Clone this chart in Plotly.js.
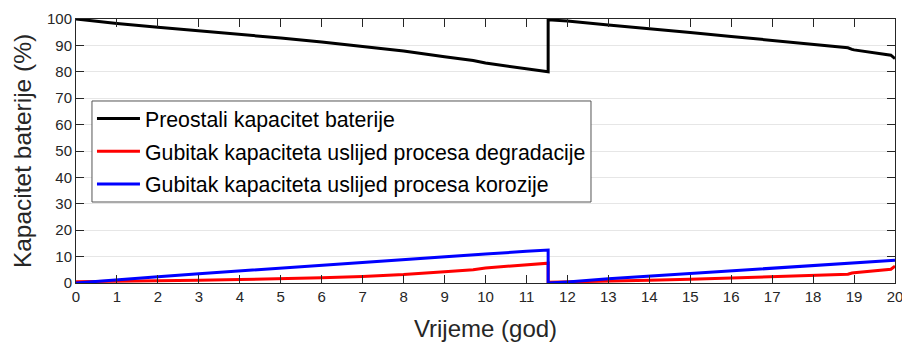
<!DOCTYPE html>
<html>
<head>
<meta charset="utf-8">
<script src="https://cdn.plot.ly/plotly-3.0.1.min.js"></script>
<style>html,body{margin:0;padding:0;background:#fff}#chart{width:902px;height:342px}</style>
</head>
<body>
<div id="chart"></div>
<script>
const years = [0,1,2,3,4,5,6,7,8,9,9.7,10,11,11.53,11.53,12,13,14,15,16,17,18,18.85,18.95,19,19.9,20];
const remaining = [100,98.3,96.9,95.6,94.2,92.8,91.3,89.7,87.9,85.7,84.3,83.3,81.3,80,99.7,99.2,97.7,96.4,94.9,93.4,91.8,90.3,89.1,88.5,88.3,86.3,85];
const degradation = [0.5,0.6,0.8,1.0,1.3,1.6,2.0,2.5,3.2,4.3,5.0,5.7,6.7,7.5,0.3,0.4,0.7,1.0,1.4,1.9,2.4,2.9,3.3,3.8,3.9,5.2,6.4];
const corrosion = [0,1.3,2.4,3.5,4.6,5.6,6.7,7.8,8.9,10,10.7,11,12,12.5,0,0.4,1.6,2.6,3.7,4.7,5.8,6.8,7.6,7.7,7.8,8.5,8.6];
const names = ["Preostali kapacitet baterije","Gubitak kapaciteta uslijed procesa degradacije","Gubitak kapaciteta uslijed procesa korozije"];
const xTicks = [0,1,2,3,4,5,6,7,8,9,10,11,12,13,14,15,16,17,18,19,20];
const yTicks = [0,10,20,30,40,50,60,70,80,90,100];

const series = [remaining, degradation, corrosion];
const colors = ["#000000","#ff0000","#0000ff"];
const traces = series.map((s,i)=>({
  x: years, y: s, type:'scatter', mode:'lines', name:names[i],
  legendgroup:'g'+i,
  line:{color:colors[i], width:3}
}));

const FONT = 'Liberation Sans, Arial, sans-serif';
const axisCommon = {
  showline:true, mirror:'ticks', linecolor:'#262626', linewidth:1,
  ticks:'inside', ticklen:8, tickcolor:'#262626', tickwidth:1,
  tickfont:{family:FONT, size:15, color:'#262626'},
  zeroline:false, ticklabeloverflow:'allow'
};
const layout = {
  width:902, height:342,
  margin:{l:76, r:7, t:19, b:59},
  paper_bgcolor:'#fff', plot_bgcolor:'#fff',
  showlegend:true,
  xaxis: Object.assign({}, axisCommon, {
    range:[0,20], tickvals:xTicks, showgrid:false,
    title:{text:'Vrijeme (god)', font:{family:FONT, size:24, color:'#262626'}, standoff:17}
  }),
  yaxis: Object.assign({}, axisCommon, {
    range:[0,100], tickvals:yTicks, showgrid:true, gridcolor:'#e6e6e6', gridwidth:1,
    title:{text:'Kapacitet baterije (%)', font:{family:FONT, size:24.5, color:'#262626'}, standoff:8}
  }),
  shapes:[{
    type:'rect', xref:'paper', yref:'paper', layer:'above',
    x0:0.0195, x1:0.6288, y0:0.3068, y1:0.6894,
    fillcolor:'#ffffff', line:{color:'#555555', width:1}
  }],
  legend:{
    x:0.0195, y:0.70, xanchor:'left', yanchor:'top',
    bgcolor:'rgba(0,0,0,0)', borderwidth:0,
    font:{family:FONT, size:21.3, color:'#000'},
    itemwidth:43,
    traceorder:'grouped', tracegroupgap:2
  }
};
Plotly.newPlot('chart', traces, layout, {displayModeBar:false, staticPlot:true});
</script>
</body>
</html>
